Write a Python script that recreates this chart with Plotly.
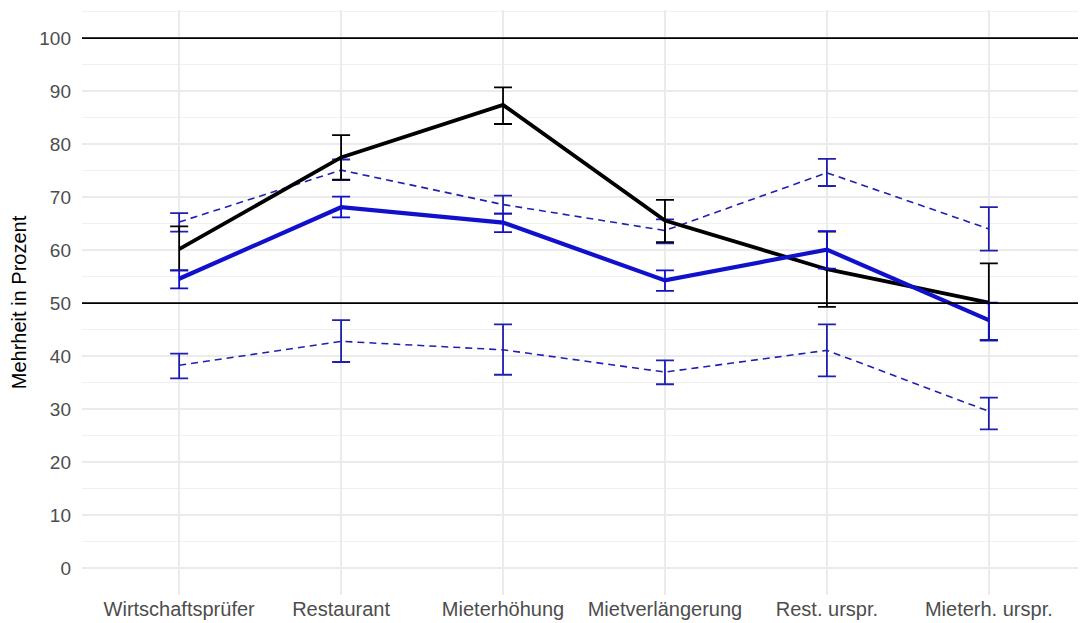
import plotly.graph_objects as go

categories = ["Wirtschaftsprüfer", "Restaurant", "Mieterhöhung",
              "Mietverlängerung", "Rest. urspr.", "Mieterh. urspr."]

black_mean = [60.2, 77.5, 87.4, 65.6, 56.4, 50.1]
black_lo = [56.2, 73.3, 83.8, 61.5, 49.3, 43.0]
black_hi = [64.5, 81.7, 90.7, 69.5, 63.5, 57.5]

blue_mean = [54.6, 68.1, 65.2, 54.3, 60.1, 46.8]
blue_lo = [52.8, 66.2, 63.4, 52.3, 56.5, 43.0]
blue_hi = [56.2, 70.1, 66.9, 56.2, 63.6, 50.1]

upper_mean = [65.3, 75.1, 68.6, 63.7, 74.6, 64.0]
upper_lo = [63.5, 73.2, 66.9, 61.3, 72.1, 59.9]
upper_hi = [67.0, 77.1, 70.3, 65.8, 77.2, 68.1]

lower_mean = [38.3, 42.8, 41.2, 37.0, 41.1, 29.6]
lower_lo = [35.8, 38.9, 36.5, 34.7, 36.2, 26.2]
lower_hi = [40.5, 46.8, 46.0, 39.2, 46.0, 32.2]

ref_lines = [50, 100]
y_ticks = [0, 10, 20, 30, 40, 50, 60, 70, 80, 90, 100]

BLACK = "#000000"
BLUE = "#1111CC"
DBLUE = "#2020B0"


def series(mean, lo, hi, color, width, dash, ebw, capw):
    return go.Scatter(
        x=categories, y=mean, mode="lines",
        line=dict(color=color, width=width, dash=dash),
        error_y=dict(type="data", symmetric=False,
                     array=[h - m for h, m in zip(hi, mean)],
                     arrayminus=[m - l for m, l in zip(mean, lo)],
                     color=color, thickness=ebw, width=capw),
        showlegend=False, hoverinfo="skip",
    )


fig = go.Figure()
fig.add_trace(series(upper_mean, upper_lo, upper_hi, DBLUE, 1.6, "7px,5px", 1.8, 9))
fig.add_trace(series(lower_mean, lower_lo, lower_hi, DBLUE, 1.6, "7px,5px", 1.8, 9))
fig.add_trace(series(black_mean, black_lo, black_hi, BLACK, 3.8, "solid", 1.8, 9))
fig.add_trace(series(blue_mean, blue_lo, blue_hi, BLUE, 4.2, "solid", 1.8, 9))

for v in ref_lines:
    fig.add_hline(y=v, line=dict(color="black", width=1.8), layer="above")

grid = "#EBEBEB"
fig.update_layout(
    width=1078, height=615,
    margin=dict(l=74, r=0, t=2, b=28),
    paper_bgcolor="white", plot_bgcolor="white",
    font=dict(family="Liberation Sans, Arial, sans-serif", color="#4D4D4D", size=19),
    xaxis=dict(
        type="category", range=[-0.6, 5.6], automargin=False,
        showgrid=True, gridcolor=grid, gridwidth=1.5,
        zeroline=False, showline=False, ticks="",
        tickfont=dict(size=20, color="#4D4D4D"),
        ticklabelstandoff=0,
    ),
    yaxis=dict(
        range=[-5.05, 105.3], automargin=False,
        tickvals=y_ticks,
        showgrid=True, gridcolor=grid, gridwidth=1.5,
        minor=dict(dtick=5, tick0=0, showgrid=True, gridcolor="#F0F0F0", gridwidth=1),
        zeroline=False, showline=False, ticks="",
        tickfont=dict(size=19, color="#4D4D4D"),
        ticklabelstandoff=10,
        title=dict(text="Mehrheit in Prozent", font=dict(size=20, color="black"), standoff=14),
    ),
)

fig.write_html("out.html")
